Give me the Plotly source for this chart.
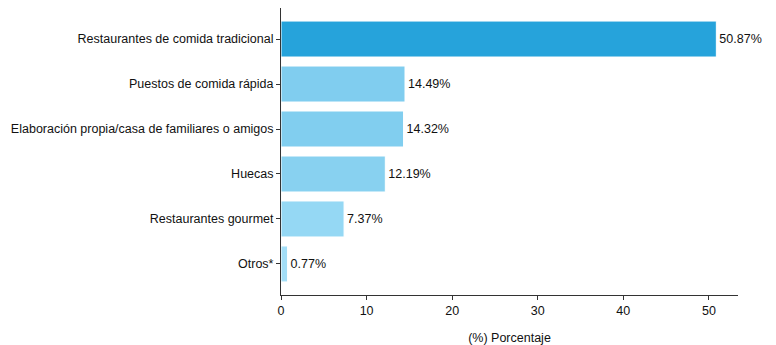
import plotly.graph_objects as go

categories = ["Restaurantes de comida tradicional", "Puestos de comida rápida",
              "Elaboración propia/casa de familiares o amigos", "Huecas",
              "Restaurantes gourmet", "Otros*"]
values = [50.87, 14.49, 14.32, 12.19, 7.37, 0.77]
labels = ["50.87%", "14.49%", "14.32%", "12.19%", "7.37%", "0.77%"]
colors = ["#26A3DB", "#80CDEF", "#81CEEF", "#88D1F0", "#95D8F4", "#A3DEF7"]

fig = go.Figure(go.Bar(
    y=categories, x=values, orientation="h",
    marker=dict(color=colors, line=dict(color="white", width=1)),
    width=0.8,
    text=labels, textposition="outside", cliponaxis=False,
    textfont=dict(size=12.5, color="#111111"),
))

# the page body adds an 8px margin, so the figure is sized 8px smaller
fig.update_layout(
    width=768, height=337,
    margin=dict(l=273, r=38, t=0, b=50, autoexpand=False),
    plot_bgcolor="white", paper_bgcolor="white",
    font=dict(family="Liberation Sans, Arial, sans-serif", size=12.5, color="#111111"),
    showlegend=False,
    bargap=0.2,
)
fig.update_xaxes(
    range=[0, 53.4], tickvals=[0, 10, 20, 30, 40, 50],
    showline=True, linecolor="#333333", linewidth=1,
    ticks="outside", ticklen=4, tickcolor="#333333",
    showgrid=False, zeroline=False, automargin=False,
    title=dict(text="(%) Porcentaje", standoff=19, font=dict(size=12.5)),
)
fig.update_yaxes(
    autorange=False, range=[5.69, -0.69],
    categoryorder="array", categoryarray=categories,
    showline=True, linecolor="#333333", linewidth=1,
    ticks="outside", ticklen=4, tickcolor="#333333",
    showgrid=False, zeroline=False, automargin=False,
)

fig.write_html("out.html")
